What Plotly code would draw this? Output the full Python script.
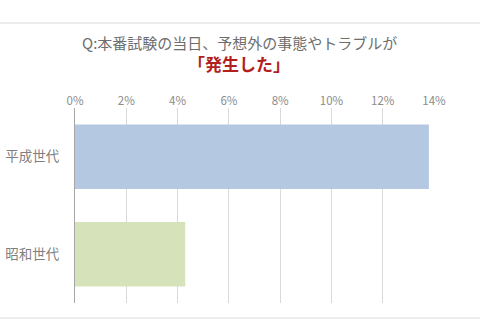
import plotly.graph_objects as go

categories = ["平成世代", "昭和世代"]
values = [13.8, 4.3]
colors = ["#B4C8E2", "#D5E2BA"]
tick_vals = [0, 2, 4, 6, 8, 10, 12, 14]
tick_text = ["0%", "2%", "4%", "6%", "8%", "10%", "12%", "14%"]
title_line1 = "Q:本番試験の当日、予想外の事態やトラブルが"
title_line2 = "「発生した」"

FONT = "Noto Sans CJK JP"

fig = go.Figure()
fig.add_trace(go.Bar(
    y=categories, x=values, orientation="h",
    marker=dict(color=colors, line=dict(width=0)),
    width=0.66,
))

fig.update_layout(
    width=480, height=320,
    margin=dict(l=75, r=46, t=108, b=17),
    paper_bgcolor="white", plot_bgcolor="white",
    showlegend=False,
    font=dict(family=FONT, color="#7F7F7F"),
    xaxis=dict(
        range=[0, 14], side="top", automargin=False,
        tickvals=tick_vals, ticktext=tick_text,
        showgrid=True, gridcolor="#D9D9D9", gridwidth=1,
        zeroline=False, showline=False, ticks="",
        tickfont=dict(size=11.5, color="#8C8C8C", family=FONT),
    ),
    yaxis=dict(
        autorange="reversed", automargin=False,
        showgrid=False, zeroline=False,
        showline=True, linecolor="#A6A6A6", linewidth=1,
        ticks="", ticklabelstandoff=12,
        tickfont=dict(size=13.5, color="#7F7F7F", family=FONT),
    ),
    annotations=[
        dict(text=title_line1, xref="paper", yref="paper", x=0.457, y=1.335,
             xanchor="center", yanchor="middle", showarrow=False,
             font=dict(size=15, color="#6E6E6E", family=FONT)),
        dict(text="<b>" + title_line2 + "</b>", xref="paper", yref="paper", x=0.457, y=1.228,
             xanchor="center", yanchor="middle", showarrow=False,
             font=dict(size=17, color="#B21F1F", family=FONT)),
    ],
    shapes=[
        dict(type="line", xref="paper", yref="paper", x0=-0.25, x1=1.2, y0=1.436, y1=1.436,
             line=dict(color="#E6E6E6", width=1.5)),
        dict(type="line", xref="paper", yref="paper", x0=-0.25, x1=1.2, y0=-0.077, y1=-0.077,
             line=dict(color="#E6E6E6", width=1.5)),
    ],
)

fig.write_html("out.html")
